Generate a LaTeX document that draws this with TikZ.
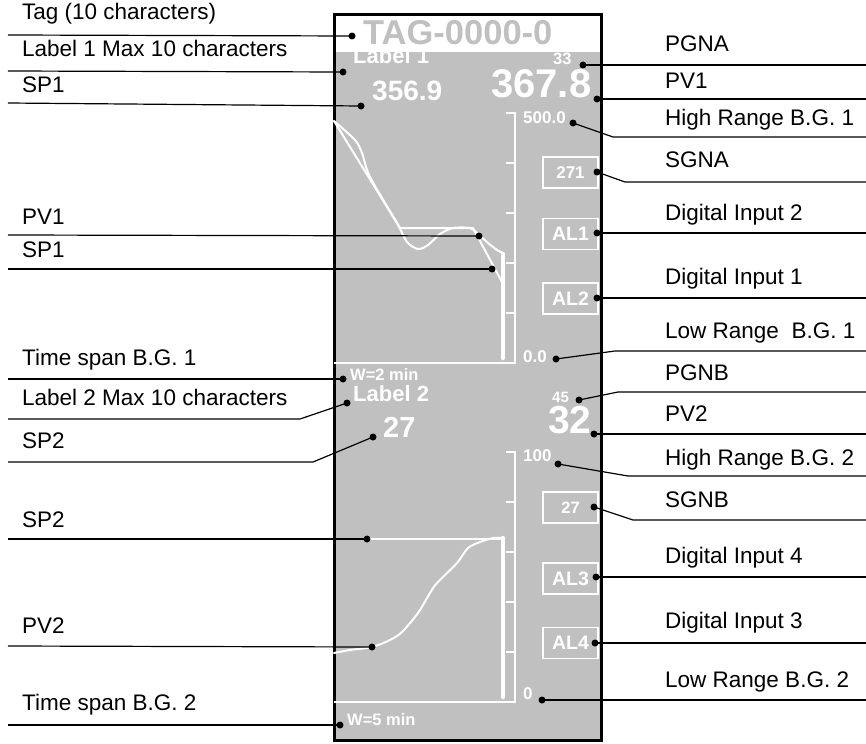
\documentclass[tikz,border=0pt]{standalone}
\usepackage{fontspec}
\setmainfont{Liberation Sans}
\definecolor{panelgray}{HTML}{C0C0C0}
\newcommand\myfs[1]{\fontsize{#1bp}{#1bp}\selectfont}
\begin{document}
\begin{tikzpicture}[x=1bp,y=-1bp,
 lbl/.style={anchor=base west, inner sep=0, font=\myfs{22.5}},
 pv/.style={anchor=base west, inner sep=0, text=white, font=\myfs{#1}\bfseries},
 dot/.style={circle, fill=black, inner sep=0, minimum size=7bp},
 conn/.style={line width=1.2bp, black},
 scl/.style={white, line width=2.2bp},
 trend/.style={white, line width=2bp, line join=round, line cap=round},
 bar/.style={white, line width=4.5bp, line cap=round},
 abox/.style={draw=white, line width=1.6bp, minimum width=55bp, minimum height=31bp, inner sep=0, text=white, font=\myfs{#1}\bfseries}]
\useasboundingbox (0,0) rectangle (866,744);

% panel
\fill[panelgray] (334,52) rectangle (601,740);
\draw[line width=3bp] (334,15) rectangle (601,740);

% panel texts
\node[anchor=base west, inner sep=0, text=panelgray, font=\myfs{34.5}\bfseries] (tag) at (363,45) {TAG-0000-0};
\node[pv=22] (lab1) at (353,64) {Label 1};
\node[pv=28] (sp1v) at (372,100) {356.9};
\node[pv=16.5] (pgna) at (553,65) {33};
\node[pv=40] (pv1v) at (491,97) {367.8};
\node[pv=17] (hi1) at (523,123) {500.0};
\node[pv=17] (lo1) at (523,362) {0.0};
\node[pv=16.5] (ts1) at (350,380) {W=2 min};
\node[pv=22] (lab2) at (353,401) {Label 2};
\node[pv=29] (sp2v) at (383,437) {27};
\node[pv=15] (pgnb) at (552,402) {45};
\node[pv=39] (pv2v) at (548,433) {32};
\node[pv=17] (hi2) at (523,461) {100};
\node[pv=17] (lo2) at (523,699) {0};
\node[pv=16.5] (ts2) at (347,725) {W=5 min};

% boxes
\node[abox=17] (sgna) at (570.5,172.5) {271};
\node[abox=19.5] (al1) at (570.5,234) {AL1};
\node[abox=19.5] (al2) at (570.5,298.5) {AL2};
\node[abox=16.5] (sgnb) at (570.5,507.5) {27};
\node[abox=19.5] (al3) at (570.5,578.5) {AL3};
\node[abox=19.5] (al4) at (570.5,643) {AL4};

% bar graph 1
\draw[scl] (334,363) -- (515,363) -- (515,113) -- (506,113);
\foreach \yy in {163,213,263,313} \draw[scl] (515,\yy) -- (506,\yy);
\draw[bar] (503,254) -- (503,358);
\draw[trend] (334,121) -- (400,228) -- (473,228) -- (502,282);
\draw[trend] plot[smooth, tension=0.5] coordinates {(334,121) (355,140) (362,153) (370,177) (397,223) (407,242) (418,249) (428,245) (440,234) (453,228) (470,228) (477,233) (488,243) (497,250) (503,253)};

% bar graph 2
\draw[scl] (334,702) -- (515,702) -- (515,452) -- (506,452);
\foreach \yy in {502,552,602,652} \draw[scl] (515,\yy) -- (506,\yy);
\draw[bar] (503,538) -- (503,697);
\draw[trend] (334,539) -- (500,539);
\draw[trend] plot[smooth, tension=0.5] coordinates {(334,653) (350,650) (372,647) (390,640) (402,632) (418,613) (430,593) (437,583) (457,563) (468,548) (480,542) (493,538) (502,538)};

% left labels
\node[lbl] (lTag) at (22,20) {Tag (10 characters)};
\node[lbl] (lLab1) at (22,57) {Label 1 Max 10 characters};
\node[lbl] (lSP1) at (22,92) {SP1};
\node[lbl] (lPV1t) at (22,224) {PV1};
\node[lbl] (lSP1t) at (22,257) {SP1};
\node[lbl] (lTS1) at (22,365) {Time span B.G. 1};
\node[lbl] (lLab2) at (22,405) {Label 2 Max 10 characters};
\node[lbl] (lSP2) at (22,448) {SP2};
\node[lbl] (lSP2t) at (22,527) {SP2};
\node[lbl] (lPV2t) at (22,633) {PV2};
\node[lbl] (lTS2) at (22,710) {Time span B.G. 2};

% right labels
\node[lbl] (rPGNA) at (665,52) {PGNA};
\node[lbl] (rPV1) at (665,88) {PV1};
\node[lbl] (rHR1) at (665,125) {High Range B.G. 1};
\node[lbl] (rSGNA) at (665,167) {SGNA};
\node[lbl] (rDI2) at (665,220) {Digital Input 2};
\node[lbl] (rDI1) at (665,284) {Digital Input 1};
\node[lbl] (rLR1) at (665,338) {Low Range\ \ B.G. 1};
\node[lbl] (rPGNB) at (665,380) {PGNB};
\node[lbl] (rPV2) at (665,421) {PV2};
\node[lbl] (rHR2) at (665,465) {High Range B.G. 2};
\node[lbl] (rSGNB) at (665,507) {SGNB};
\node[lbl] (rDI4) at (665,563) {Digital Input 4};
\node[lbl] (rDI3) at (665,628) {Digital Input 3};
\node[lbl] (rLR2) at (665,687) {Low Range B.G. 2};

% dots
\node[dot] (dTag) at (352,36) {};
\node[dot] (dLab1) at (343,72) {};
\node[dot] (dSP1) at (361,106) {};
\node[dot] (dPV1t) at (479,236) {};
\node[dot] (dSP1t) at (492,269) {};
\node[dot] (dTS1) at (343,379) {};
\node[dot] (dLab2) at (347,403) {};
\node[dot] (dSP2) at (373,437) {};
\node[dot] (dSP2t) at (367,539) {};
\node[dot] (dPV2t) at (372,647) {};
\node[dot] (dTS2) at (340,725) {};
\node[dot] (dPGNA) at (583,65) {};
\node[dot] (dPV1) at (597,99) {};
\node[dot] (dHR1) at (573,123) {};
\node[dot] (dSGNA) at (597,172) {};
\node[dot] (dDI2) at (597,233) {};
\node[dot] (dDI1) at (597,298) {};
\node[dot] (dLR1) at (556,359) {};
\node[dot] (dPGNB) at (579,400) {};
\node[dot] (dPV2) at (594,434) {};
\node[dot] (dHR2) at (558,464) {};
\node[dot] (dSGNB) at (594,507) {};
\node[dot] (dDI4) at (596,577) {};
\node[dot] (dDI3) at (595,643) {};
\node[dot] (dLR2) at (542,700) {};

% free ends
\coordinate (eTag) at (8,35);
\coordinate (eLab1) at (8,71);
\coordinate (eSP1) at (8,103);
\coordinate (ePV1t) at (8,235);
\coordinate (eSP1t) at (8,269);
\coordinate (eTS1) at (8,379);
\coordinate (eLab2) at (8,419);
\coordinate (kLab2) at (300,419);
\coordinate (eSP2) at (8,462);
\coordinate (kSP2) at (313,462);
\coordinate (eSP2t) at (8,539);
\coordinate (ePV2t) at (8,646);
\coordinate (eTS2) at (8,725);
\coordinate (ePGNA) at (866,65);
\coordinate (ePV1) at (866,99);
\coordinate (kHR1) at (613,137);
\coordinate (eHR1) at (866,137);
\coordinate (kSGNA) at (625,182);
\coordinate (eSGNA) at (866,182);
\coordinate (eDI2) at (866,233);
\coordinate (eDI1) at (866,298);
\coordinate (kLR1) at (615,351);
\coordinate (eLR1) at (866,351);
\coordinate (kPGNB) at (618,392);
\coordinate (ePGNB) at (866,392);
\coordinate (ePV2) at (866,434);
\coordinate (kHR2) at (628,476);
\coordinate (eHR2) at (866,476);
\coordinate (kSGNB) at (633,520);
\coordinate (eSGNB) at (866,520);
\coordinate (eDI4) at (866,577);
\coordinate (eDI3) at (866,643);
\coordinate (eLR2) at (866,700);

% connectors
\draw[conn] (eTag) -- (dTag.center);
\draw[conn] (eLab1) -- (dLab1.center);
\draw[conn] (eSP1) -- (dSP1.center);
\draw[conn] (ePV1t) -- (dPV1t.center);
\draw[conn] (eSP1t) -- (dSP1t.center);
\draw[conn] (eTS1) -- (dTS1.center);
\draw[conn] (eLab2) -- (kLab2) -- (dLab2.center);
\draw[conn] (eSP2) -- (kSP2) -- (dSP2.center);
\draw[conn] (eSP2t) -- (dSP2t.center);
\draw[conn] (ePV2t) -- (dPV2t.center);
\draw[conn] (eTS2) -- (dTS2.center);
\draw[conn] (dPGNA.center) -- (ePGNA);
\draw[conn] (dPV1.center) -- (ePV1);
\draw[conn] (dHR1.center) -- (kHR1) -- (eHR1);
\draw[conn] (dSGNA.center) -- (kSGNA) -- (eSGNA);
\draw[conn] (dDI2.center) -- (eDI2);
\draw[conn] (dDI1.center) -- (eDI1);
\draw[conn] (dLR1.center) -- (kLR1) -- (eLR1);
\draw[conn] (dPGNB.center) -- (kPGNB) -- (ePGNB);
\draw[conn] (dPV2.center) -- (ePV2);
\draw[conn] (dHR2.center) -- (kHR2) -- (eHR2);
\draw[conn] (dSGNB.center) -- (kSGNB) -- (eSGNB);
\draw[conn] (dDI4.center) -- (eDI4);
\draw[conn] (dDI3.center) -- (eDI3);
\draw[conn] (dLR2.center) -- (eLR2);
\end{tikzpicture}
\end{document}
